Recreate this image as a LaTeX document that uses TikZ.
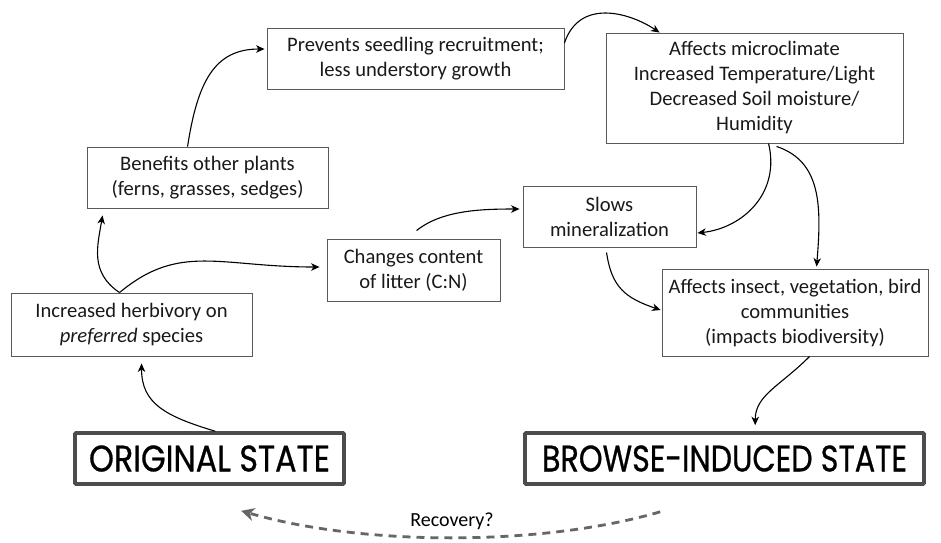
\documentclass[tikz,border=0pt]{standalone}
\usepackage{fontspec}
\setmainfont{Carlito}
\newfontfamily\statefont{Poppins}[FakeBold=0.8]
\usetikzlibrary{arrows.meta}
\begin{document}
\begin{tikzpicture}[x=1pt,y=-1pt,
  box/.style={draw=black!65, line width=0.9pt, inner sep=0pt, align=center,
    font=\fontsize{20.6}{25}\selectfont, text=black!90},
  statebox/.style={draw=black!70, line width=3.6pt, inner sep=0pt, rounded corners=1pt},
  conn/.style={-{Stealth[length=8.5pt,width=7.5pt,inset=2.5pt]}, line width=1.1pt, black},
  recov/.style={-{Stealth[length=13pt,width=13pt,inset=4pt]}, draw=black!60, line width=2.8pt,
    dash pattern=on 8pt off 6pt}]
\useasboundingbox (0,0) rectangle (941,542);

\node[box, minimum width=297pt, minimum height=61pt] (prev) at (415.5,58.5)
  {Prevents seedling recruitment;\\less understory growth};
\node[box, minimum width=297pt, minimum height=110pt] (micro) at (754.5,88)
  {Affects microclimate\\Increased Temperature/Light\\Decreased Soil moisture/\\Humidity};
\node[box, minimum width=241pt, minimum height=61pt] (ben) at (207.5,177.5)
  {Benefits other plants\\(ferns, grasses, sedges)};
\node[box, minimum width=173pt, minimum height=61pt] (slows) at (609.5,216.5)
  {Slows\\mineralization};
\node[box, minimum width=173pt, minimum height=62pt] (chg) at (413.5,270)
  {Changes content\\of litter (C:N)};
\node[box, minimum width=241pt, minimum height=63pt] (herb) at (131.5,324.5)
  {Increased herbivory on\\\textit{preferred} species};
\node[box, minimum width=266pt, minimum height=87pt] (insect) at (795,312.5)
  {Affects insect, vegetation, bird\\communities\\(impacts biodiversity)};

\node[statebox, minimum width=269pt, minimum height=51pt] (orig) at (209.5,458.5)
  {\resizebox{241pt}{26pt}{\statefont ORIGINAL STATE}};
\node[statebox, minimum width=399pt, minimum height=51pt] (browse) at (724.5,458.5)
  {\resizebox{365pt}{26pt}{\statefont BROWSE-INDUCED STATE}};

\node[font=\fontsize{20}{25}\selectfont] (rec) at (452,521) {Recovery?};

% connectors
\draw[conn] ([xshift=142pt]orig.north west) .. controls +(-50,-15) and +(0,40) .. ([xshift=131pt,yshift=-7pt]herb.south west);
\draw[conn] ([xshift=109pt]herb.north west) .. controls +(-30,-20) and +(-5,30) .. ([xshift=16pt,yshift=-7pt]ben.south west);
\draw[conn] ([xshift=109pt]herb.north west) .. controls +(60,-50) and +(-100,0) .. ([xshift=-7pt,yshift=3pt]chg.west);
\draw[conn] ([xshift=101pt]ben.north west) .. controls +(10,-65) and +(-50,0) .. ([xshift=-2pt,yshift=9.5pt]prev.west);
\draw[conn] ([yshift=15.5pt]prev.east) .. controls +(15,-45) and +(-30,-20) .. ([xshift=54pt]micro.north west);
\draw[conn] ([xshift=163pt]micro.south west) .. controls +(12,50) and +(45,-5) .. ([xshift=1pt,yshift=-16.5pt]slows.east);
\draw[conn] ([xshift=171pt,yshift=-3pt]micro.south west) .. controls +(45,15) and +(5,-60) .. ([xshift=155pt,yshift=2pt]insect.north west);
\draw[conn] ([xshift=90pt,yshift=8pt]chg.north west) .. controls +(25,-20) and +(-40,0) .. ([xshift=-3pt,yshift=7.5pt]slows.west);
\draw[conn] ([xshift=84pt,yshift=-5pt]slows.south west) .. controls +(5,35) and +(-35,-12) .. ([xshift=-1pt,yshift=2.5pt]insect.west);
\draw[conn] ([xshift=148pt]insect.south west) .. controls +(-30,30) and +(0,-30) .. ([xshift=232pt,yshift=6pt]browse.north west);
\draw[recov] ([xshift=137pt,yshift=-26pt]browse.south west) .. controls +(-120,35) and +(120,35) .. ([xshift=168pt,yshift=-25pt]orig.south west);
\end{tikzpicture}
\end{document}
